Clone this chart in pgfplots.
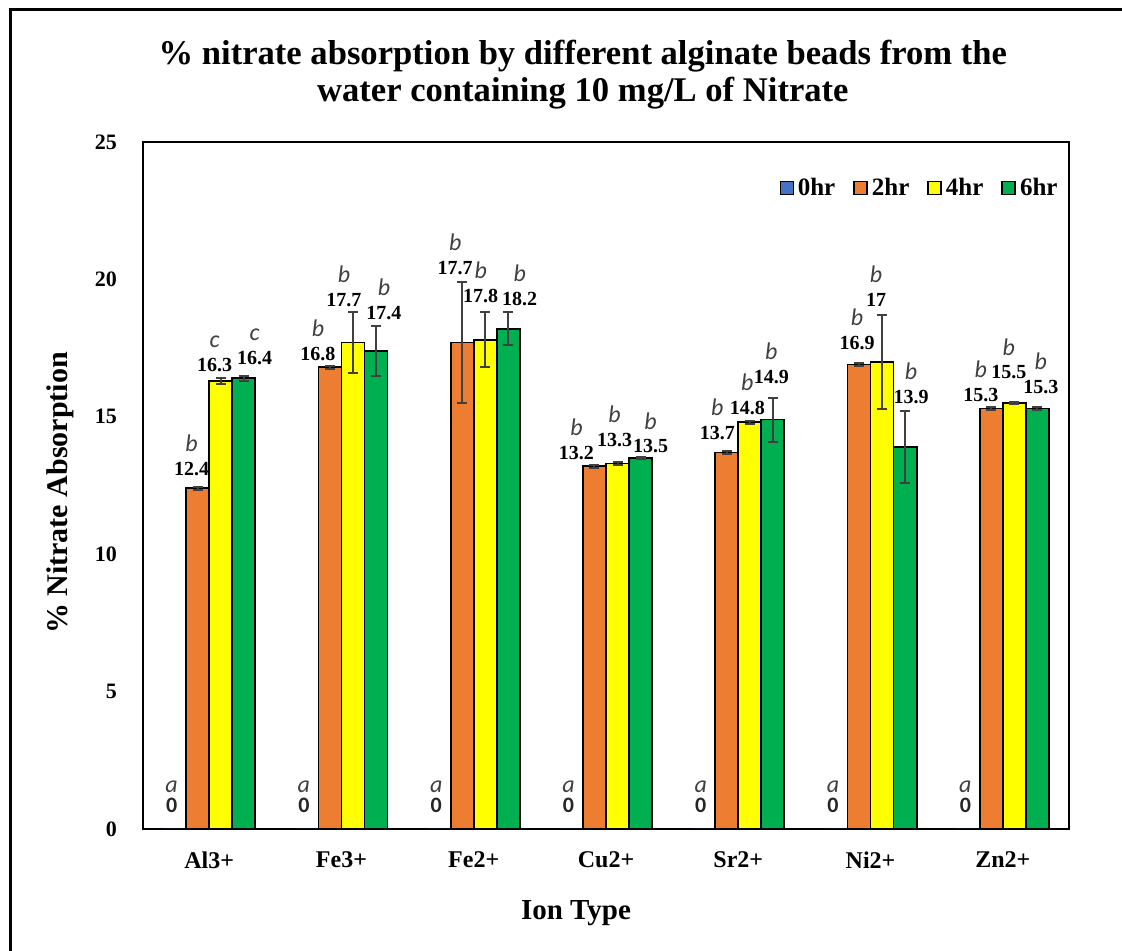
\documentclass[border=0pt]{standalone}
\usepackage{fontspec}
\setmainfont{Liberation Serif}
\newfontfamily\carlito{Carlito}
\usepackage{pgfplots}
\usepackage{pgfplotstable}
\pgfplotsset{compat=1.18}

\definecolor{hr0}{HTML}{4472C4}
\definecolor{hr2}{HTML}{ED7D31}
\definecolor{hr4}{HTML}{FFFF00}
\definecolor{hr6}{HTML}{00B050}
\definecolor{errgray}{HTML}{404040}

% x: ion index, v: mean % absorption, e: error, l: significance letter,
% dx, dy: label nudges in px (horizontal, gap above the error bar)
\pgfplotstableread{
x v e l dx dy
0 0 0 a -3 0
1 0 0 a -3 0
2 0 0 a -3 0
3 0 0 a -3 0
4 0 0 a -3 0
5 0 0 a -3 0
6 0 0 a -3 0
}\tabzero
\pgfplotstableread{
x v e l dx dy
0 12.4 0.05 b -6 11
1 16.8 0.05 b -12 5
2 17.7 2.2 b -7 7
3 13.2 0.05 b -18 5
4 13.7 0.05 b -9.5 11
5 16.9 0.05 b -2 13
6 15.3 0.05 b -10.5 5
}\tabtwo
\pgfplotstableread{
x v e l dx dy
0 16.3 0.1 c -6 6
1 17.7 1.1 b -9 5
2 17.8 1.0 b -4.5 9
3 13.3 0.05 b -3 15
4 14.8 0.05 b -2.5 6
5 17 1.7 b -6 8
6 15.5 0.05 b -5.5 22
}\tabfour
\pgfplotstableread{
x v e l dx dy
0 16.4 0.1 c 11 10
1 17.4 0.9 b 8 6
2 18.2 0.6 b 11.5 6
3 13.5 0.05 b 10 3
4 14.9 0.8 b -1.5 13
5 13.9 1.3 b 6 7
6 15.3 0.05 b 3.5 13
}\tabsix

\pgfplotsset{
  barplot/.style={forget plot, draw=black, line width=0.9pt,
    error bars/y dir=both, error bars/y explicit,
    error bars/error bar style={color=errgray, line width=1pt},
    error bars/error mark options={color=errgray, line width=1pt, mark size=2.5pt, rotate=90}},
  % value printed above the bar (or its error bar)
  vallabel/.style={forget plot, sharp plot, draw=none, mark=none,
    point meta=\thisrow{v},
    nodes near coords={\pgfmathprintnumber{\pgfplotspointmeta}},
    every node near coord/.style={anchor=south, inner sep=0pt,
      text=black, font=\fontsize{10}{12}\selectfont\bfseries}},
  % significance letter above the value
  letlabel/.style={forget plot, sharp plot, draw=none, mark=none,
    point meta=explicit symbolic,
    nodes near coords={\pgfplotspointmeta},
    every node near coord/.style={anchor=south, inner sep=0pt, yshift=12pt,
      text=errgray, font=\carlito\itshape\fontsize{12}{12.5}\selectfont}},
}

\begin{document}
\begin{tikzpicture}
\useasboundingbox (0,0) rectangle (561pt,475.5pt);
\draw[line width=1.5pt] (5pt,-2pt) -- (5pt,470.5pt) -- (563pt,470.5pt);
\begin{axis}[
  at={(71.5pt,61pt)}, anchor=south west,
  width=463pt, height=343.5pt, scale only axis,
  ybar=0pt, bar width=0.174,
  xmin=-0.5, xmax=6.5, ymin=0, ymax=25,
  xtick={0,...,6},
  xticklabels={Al3+,Fe3+,Fe2+,Cu2+,Sr2+,Ni2+,Zn2+},
  ytick={0,5,...,25},
  major tick length=0pt,
  axis line style={line width=1.3pt},
  /pgf/number format/assume math mode=true,
  xticklabel style={font=\fontsize{12}{14}\selectfont\bfseries, yshift=-8pt},
  yticklabel style={font=\fontsize{11}{13}\selectfont\bfseries, xshift=-9.5pt},
  title={\% nitrate absorption by different alginate beads from the\\water containing 10 mg/L of Nitrate},
  title style={at={(axis description cs:0.475,1.131)}, anchor=north, align=center,
    inner sep=0pt, font=\fontsize{17.3}{18.5}\selectfont\bfseries},
  xlabel={Ion Type},
  xlabel style={at={(axis description cs:0.4676,-0.1223)}, anchor=center,
    font=\fontsize{14.5}{16}\selectfont\bfseries},
  ylabel={\% Nitrate Absorption},
  ylabel style={at={(axis description cs:-0.0896,0.489)}, anchor=center,
    font=\fontsize{15}{17}\selectfont\bfseries},
  legend columns=4,
  legend style={at={(axis description cs:0.9924,0.933)}, anchor=east, draw=none,
    fill=none, inner sep=0pt, font=\fontsize{12.5}{14}\selectfont\bfseries,
    /tikz/every even column/.append style={column sep=7pt}},
  legend image code/.code={\draw[#1] (0pt,-3.25pt) rectangle (6.5pt,3.25pt);},
]
% legend swatches
\addlegendimage{fill=hr0, draw=none}
\addlegendentry{0hr}
\addlegendimage{fill=hr2, draw=black, line width=0.8pt}
\addlegendentry{2hr}
\addlegendimage{fill=hr4, draw=black, line width=0.8pt}
\addlegendentry{4hr}
\addlegendimage{fill=hr6, draw=black, line width=0.8pt}
\addlegendentry{6hr}

% bars
\addplot[forget plot, bar shift=-0.261, fill=hr0, draw=none]
  table[x=x, y=v] {\tabzero};
\addplot[barplot, bar shift=-0.087, fill=hr2]
  table[x=x, y=v, y error=e] {\tabtwo};
\addplot[barplot, bar shift=0.087, fill=hr4]
  table[x=x, y=v, y error=e] {\tabfour};
\addplot[barplot, bar shift=0.261, fill=hr6]
  table[x=x, y=v, y error=e] {\tabsix};

% 0hr labels
\addplot[vallabel, nodes near coords={\carlito\bfseries\fontsize{11}{12}\selectfont\pgfmathprintnumber{\pgfplotspointmeta}},
  every node near coord/.append style={yshift=8pt, text=black!85}]
  table[x expr=\thisrow{x}-0.261+\thisrow{dx}/132.3, y=v] {\tabzero};
\addplot[letlabel, every node near coord/.append style={yshift=6pt}]
  table[x expr=\thisrow{x}-0.261+\thisrow{dx}/132.3, y=v, meta=l] {\tabzero};
% 2hr labels
\addplot[vallabel] table[x expr=\thisrow{x}-0.087+\thisrow{dx}/132.3,
  y expr=\thisrow{v}+\thisrow{e}+\thisrow{dy}/27.44] {\tabtwo};
\addplot[letlabel] table[x expr=\thisrow{x}-0.087+\thisrow{dx}/132.3,
  y expr=\thisrow{v}+\thisrow{e}+\thisrow{dy}/27.44, meta=l] {\tabtwo};
% 4hr labels
\addplot[vallabel] table[x expr=\thisrow{x}+0.087+\thisrow{dx}/132.3,
  y expr=\thisrow{v}+\thisrow{e}+\thisrow{dy}/27.44] {\tabfour};
\addplot[letlabel] table[x expr=\thisrow{x}+0.087+\thisrow{dx}/132.3,
  y expr=\thisrow{v}+\thisrow{e}+\thisrow{dy}/27.44, meta=l] {\tabfour};
% 6hr labels
\addplot[vallabel] table[x expr=\thisrow{x}+0.261+\thisrow{dx}/132.3,
  y expr=\thisrow{v}+\thisrow{e}+\thisrow{dy}/27.44] {\tabsix};
\addplot[letlabel] table[x expr=\thisrow{x}+0.261+\thisrow{dx}/132.3,
  y expr=\thisrow{v}+\thisrow{e}+\thisrow{dy}/27.44, meta=l] {\tabsix};
\end{axis}
\end{tikzpicture}
\end{document}
